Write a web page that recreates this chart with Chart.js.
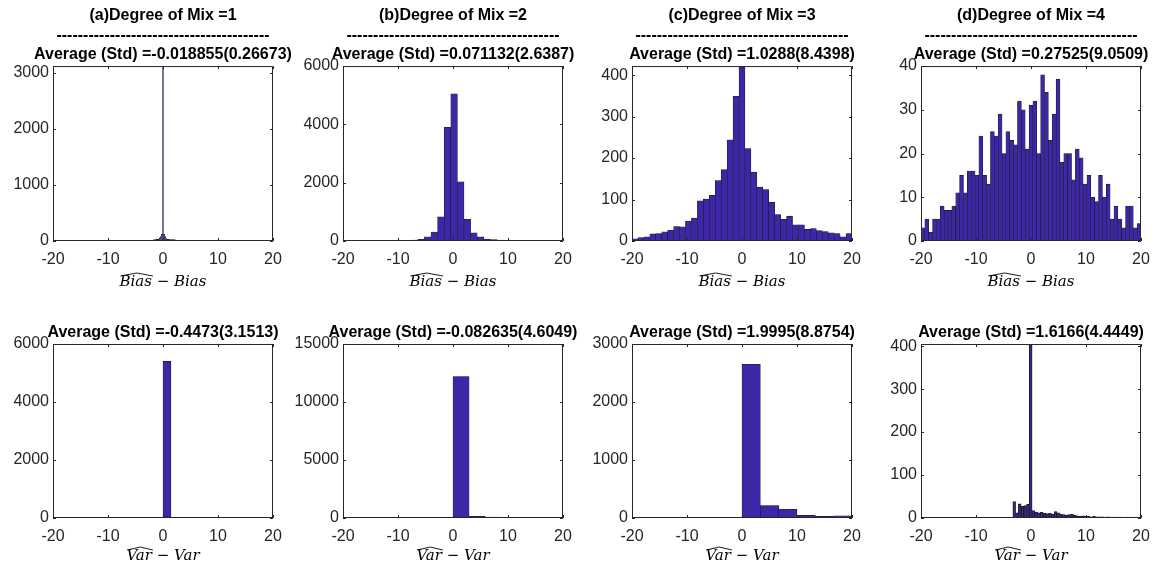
<!DOCTYPE html>
<html>
<head>
<meta charset="utf-8">
<script src="https://cdn.jsdelivr.net/npm/chart.js@4.4.1/dist/chart.umd.min.js"></script>
<style>
  body { margin: 0; background: #fff; width: 1156px; height: 569px; position: relative; overflow: hidden; }
  .p { position: absolute; width: 330px; }
  .top { top: 0; height: 291px; }
  .bot { top: 317px; height: 251px; }
</style>
</head>
<body>
<div class="p top" style="left:-2px"><canvas id="b1"></canvas></div>
<div class="p top" style="left:288px"><canvas id="b2"></canvas></div>
<div class="p top" style="left:577px"><canvas id="b3"></canvas></div>
<div class="p top" style="left:866px"><canvas id="b4"></canvas></div>
<div class="p bot" style="left:-2px"><canvas id="v1"></canvas></div>
<div class="p bot" style="left:288px"><canvas id="v2"></canvas></div>
<div class="p bot" style="left:577px"><canvas id="v3"></canvas></div>
<div class="p bot" style="left:866px"><canvas id="v4"></canvas></div>
<script>
// titles
var mixTitles = ['(a)Degree of Mix =1', '(b)Degree of Mix =2', '(c)Degree of Mix =3', '(d)Degree of Mix =4'];
var dashes = '----------------------------------------';
var biasStats = ['Average (Std) =-0.018855(0.26673)', 'Average (Std) =0.071132(2.6387)', 'Average (Std) =1.0288(8.4398)', 'Average (Std) =0.27525(9.0509)'];
var varStats = ['Average (Std) =-0.4473(3.1513)', 'Average (Std) =-0.082635(4.6049)', 'Average (Std) =1.9995(8.8754)', 'Average (Std) =1.6166(4.4449)'];

var xTicks = [-20, -10, 0, 10, 20];

// histogram bins: [left edge of first bin, bin width]
var biasBins1 = [-1.7, 0.2];
var biasCounts1 = [25, 25, 28, 30, 35, 55, 80, 120, 4800, 125, 80, 45, 30, 28, 27, 26, 25, 25, 24, 22];
var biasBins2 = [-20.8, 1.2];
var biasCounts2 = [4, 4, 5, 5, 6, 7, 8, 9, 11, 14, 18, 28, 60, 140, 310, 830, 3900, 5050, 2030, 740,
                   280, 140, 70, 46, 32, 24, 18, 14, 12, 10, 9, 8, 7, 6];
var biasBins3 = [-20, 40 / 37];
var biasCounts3 = [5, 8, 10, 17, 18, 22, 26, 35, 34, 48, 55, 97, 101, 110, 146, 172, 244, 349, 422,
                   223, 166, 130, 124, 93, 64, 52, 60, 39, 39, 28, 30, 25, 23, 20, 18, 10, 18];
var biasBins4 = [-20, 40 / 57];
var biasCounts4 = [3, 5, 2, 5, 5, 8, 7, 7, 8, 11, 15, 11, 16, 16, 15, 24, 15, 13, 25, 24,
                   29, 20, 25, 23, 22, 32, 30, 21, 31, 32, 20, 38, 34, 23, 29, 37, 18, 20, 20, 14,
                   21, 19, 13, 15, 10, 9, 15, 10, 13, 5, 8, 5, 3, 8, 8, 3, 4];

var varBins1 = [0, 1.45];
var varCounts1 = [5400, 20, 12, 9, 7, 6, 5, 4, 4, 3, 3, 3, 2, 2];
var varBins2 = [0, 2.93];
var varCounts2 = [12200, 150, 85, 60, 40, 35, 30];
var varBins3 = [0, 10 / 3];
var varCounts3 = [2650, 215, 150, 45, 30, 38];
var varBins4 = [-3.3, 0.5];
var varCounts4 = [38, 12, 33, 27, 29, 32, 560, 17, 14, 12, 13, 11, 10, 11, 9, 15, 12, 9, 8, 7, 8, 9,
                  6, 5, 4, 5, 4, 4, 3, 4, 3, 3, 3, 2, 3, 2, 2, 2, 2, 2, 1, 2, 1, 2, 1, 1, 1];

var yTicksB = [[0, 1000, 2000, 3000], [0, 2000, 4000, 6000], [0, 100, 200, 300, 400], [0, 10, 20, 30, 40]];
var yMaxB = [3120, 6000, 422, 40];
var yTicksV = [[0, 2000, 4000, 6000], [0, 5000, 10000, 15000], [0, 1000, 2000, 3000], [0, 100, 200, 300, 400]];
var yMaxV = [6000, 15000, 3000, 405];

// narrow bins look almost black in the original, so their edges get a full pixel
var edgeB = [1, 0.6, 0.6, 0.6];
var edgeV = [0.6, 0.6, 0.6, 1];

var sans = '"Liberation Sans", Arial, Helvetica, sans-serif';
var axisColor = '#262626';

// matlab style box with inward ticks
var boxPlugin = {
    id: 'box',
    afterDatasetsDraw: function (chart) {
        var ctx = chart.ctx, a = chart.chartArea, x = chart.scales.x, y = chart.scales.y;
        ctx.save();
        ctx.strokeStyle = axisColor;
        ctx.lineWidth = 1;
        ctx.beginPath();
        ctx.rect(a.left + 0.5, a.top + 0.5, a.right - a.left - 1, a.bottom - a.top - 1);
        x.ticks.forEach(function (t) {
            var px = Math.round(x.getPixelForValue(t.value)) + 0.5;
            ctx.moveTo(px, a.bottom); ctx.lineTo(px, a.bottom - 3);
            ctx.moveTo(px, a.top); ctx.lineTo(px, a.top + 3);
        });
        y.ticks.forEach(function (t) {
            var py = Math.round(y.getPixelForValue(t.value)) + 0.5;
            ctx.moveTo(a.left, py); ctx.lineTo(a.left + 3, py);
            ctx.moveTo(a.right, py); ctx.lineTo(a.right - 3, py);
        });
        ctx.stroke();
        ctx.restore();
    }
};

// wide hat over the first word of the x label
var hatPlugin = {
    id: 'hat',
    afterDraw: function (chart, args, opts) {
        var x = chart.scales.x, t = x.options.title;
        var font = Chart.helpers.toFont(t.font);
        var pad = Chart.helpers.toPadding(t.padding);
        var ctx = chart.ctx;
        ctx.save();
        ctx.font = font.string;
        var full = ctx.measureText(t.text).width;
        var word = ctx.measureText(opts.word).width;
        var cx = (x.left + x.right) / 2;
        var cy = x.bottom - pad.bottom - font.lineHeight / 2;
        var x0 = cx - full / 2 + 1, x1 = x0 + word;
        ctx.strokeStyle = '#000';
        ctx.lineWidth = 0.9;
        ctx.beginPath();
        ctx.moveTo(x0, cy - 6);
        ctx.lineTo((x0 + x1) / 2, cy - 9);
        ctx.lineTo(x1, cy - 6);
        ctx.stroke();
        ctx.restore();
    }
};

function makeHist(id, bins, counts, yMax, yTicks, titleLines, xLabel, hatWord, xTitlePad, edge) {
    var points = counts.map(function (c, i) {
        return { x: bins[0] + bins[1] * (i + 0.5), y: c };
    });
    return new Chart(document.getElementById(id), {
        type: 'bar',
        data: {
            datasets: [{
                data: points,
                backgroundColor: '#3e26a8',
                borderColor: '#1c1c1c',
                borderWidth: edge,
                barPercentage: 1,
                categoryPercentage: 1,
                clip: 0
            }]
        },
        options: {
            responsive: true,
            maintainAspectRatio: false,
            animation: false,
            layout: { padding: 0 },
            plugins: {
                legend: { display: false },
                tooltip: { enabled: false },
                title: {
                    display: true,
                    text: titleLines,
                    color: '#000',
                    font: { family: sans, size: 16, weight: 'bold', lineHeight: 1.22 },
                    padding: { top: 6, bottom: 1.5 }
                },
                hat: { word: hatWord }
            },
            scales: {
                x: {
                    type: 'linear',
                    min: -20,
                    max: 20,
                    offset: false,
                    grid: { display: false, drawTicks: false },
                    border: { display: false },
                    afterBuildTicks: function (s) { s.ticks = xTicks.map(function (v) { return { value: v }; }); },
                    afterFit: function (s) { s.height = 50; },
                    ticks: {
                        color: axisColor,
                        font: { family: sans, size: 16, lineHeight: 1.2 },
                        padding: 9,
                        maxRotation: 0,
                        autoSkip: false,
                        callback: function (v) { return String(v); }
                    },
                    title: {
                        display: true,
                        text: xLabel,
                        color: '#000',
                        font: { family: '"DejaVu Serif", serif', style: 'italic', size: 15, lineHeight: 1 },
                        padding: { top: 0, bottom: xTitlePad }
                    }
                },
                y: {
                    min: 0,
                    max: yMax,
                    grid: { display: false, drawTicks: false },
                    border: { display: false },
                    afterBuildTicks: function (s) { s.ticks = yTicks.map(function (v) { return { value: v }; }); },
                    afterFit: function (s) { s.width = 55; },
                    ticks: {
                        color: axisColor,
                        font: { family: sans, size: 16 },
                        padding: 4,
                        autoSkip: false,
                        callback: function (v) { return String(v); }
                    }
                },
                y2: {
                    type: 'linear',
                    position: 'right',
                    grid: { display: false, drawTicks: false },
                    border: { display: false },
                    ticks: { display: false },
                    afterFit: function (s) { s.width = 55; }
                }
            }
        },
        plugins: [boxPlugin, hatPlugin]
    });
}

var biasBins = [biasBins1, biasBins2, biasBins3, biasBins4];
var biasCounts = [biasCounts1, biasCounts2, biasCounts3, biasCounts4];
var varBins = [varBins1, varBins2, varBins3, varBins4];
var varCounts = [varCounts1, varCounts2, varCounts3, varCounts4];

for (var i = 0; i < 4; i++) {
    makeHist('b' + (i + 1), biasBins[i], biasCounts[i], yMaxB[i], yTicksB[i],
        [mixTitles[i], dashes, biasStats[i]], 'Bias \u2212 Bias', 'Bias', 1.5, edgeB[i]);
    makeHist('v' + (i + 1), varBins[i], varCounts[i], yMaxV[i], yTicksV[i],
        [varStats[i]], 'Var \u2212 Var', 'Var', 4.5, edgeV[i]);
}
</script>
</body>
</html>
